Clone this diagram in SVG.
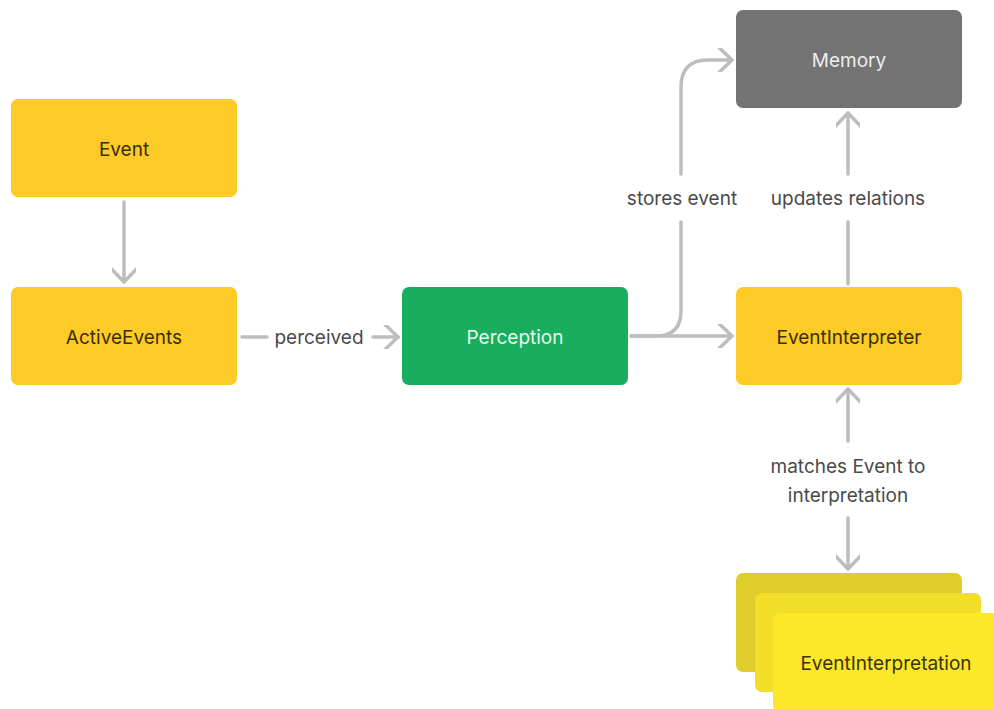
<svg xmlns="http://www.w3.org/2000/svg" width="994" height="709" viewBox="0 0 994 709">
<defs>
<style>
.node text{font-family:Inter,"Noto Sans","Liberation Sans",sans-serif;font-size:19px;text-anchor:middle;dominant-baseline:central}
.y rect{fill:#FCCB27}
.y text{fill:#3A2E05}
.lbl{font-family:Inter,"Noto Sans","Liberation Sans",sans-serif;font-size:19px;fill:#4A4A4A;text-anchor:middle;dominant-baseline:central}
.c{fill:none;stroke:#BDBDBD;stroke-width:3.5;stroke-linecap:round;stroke-linejoin:round}
</style>
<marker id="ah" viewBox="0 0 24 24" refX="20" refY="12" markerWidth="24" markerHeight="24" markerUnits="userSpaceOnUse" orient="auto">
<path d="M7,-0.5 L20,12 L7,24.5" fill="none" stroke="#BDBDBD" stroke-width="3.5" stroke-linecap="round" stroke-linejoin="round"/>
</marker>
</defs>
<rect width="994" height="709" fill="#FFFFFF"/>
<g id="connectors">
<path class="c" d="M124,202 V282" marker-end="url(#ah)"/>
<path class="c" d="M242,337 H267"/>
<path class="c" d="M373,337 H398" marker-end="url(#ah)"/>
<path class="c" d="M631,336 H732" marker-end="url(#ah)"/>
<path class="c" d="M631,336 H656 Q681,336 681,311 V222"/>
<path class="c" d="M681,174 V87 Q681,60 708,60 H732" marker-end="url(#ah)"/>
<path class="c" d="M848,284 V222"/>
<path class="c" d="M848,174 V113" marker-end="url(#ah)"/>
<path class="c" d="M848,441 V389" marker-end="url(#ah)"/>
<path class="c" d="M848,518 V569" marker-end="url(#ah)"/>
<text class="lbl" x="319" y="337">perceived</text>
<text class="lbl" x="682" y="198">stores event</text>
<text class="lbl" x="848" y="198">updates relations</text>
<text class="lbl" x="848" y="466">matches Event to</text>
<text class="lbl" x="848" y="495">interpretation</text>
</g>
<g id="Event" class="node y"><rect x="11" y="99" width="226" height="98" rx="7"/><text x="124" y="149">Event</text></g>
<g id="ActiveEvents" class="node y"><rect x="11" y="287" width="226" height="98" rx="7"/><text x="124" y="337">ActiveEvents</text></g>
<g id="Perception" class="node"><rect x="402" y="287" width="226" height="98" rx="7" fill="#18AE5E"/><text x="515" y="337" fill="#EAF7EE">Perception</text></g>
<g id="Memory" class="node"><rect x="736" y="10" width="226" height="98" rx="7" fill="#737373"/><text x="849" y="60" fill="#EDEDED">Memory</text></g>
<g id="EventInterpreter" class="node y"><rect x="736" y="287" width="226" height="98" rx="7"/><text x="849" y="337">EventInterpreter</text></g>
<g id="EventInterpretation" class="node">
<rect x="736" y="573" width="226" height="99" rx="7" fill="#DFCD2B"/>
<rect x="755" y="593" width="226" height="99" rx="7" fill="#F2DE29"/>
<rect x="773" y="613" width="226" height="99" rx="7" fill="#FCE829"/>
<text x="886" y="663" fill="#3A3305">EventInterpretation</text>
</g>
</svg>
